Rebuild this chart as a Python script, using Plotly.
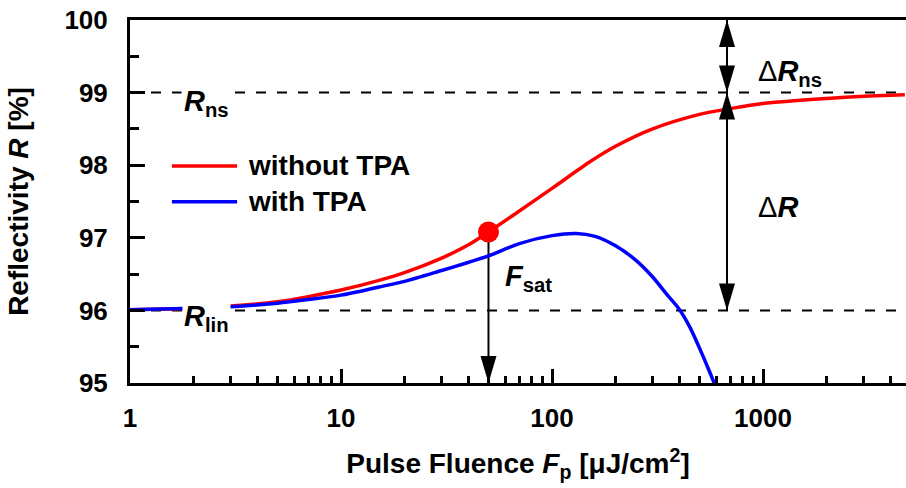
import numpy as np
import plotly.graph_objects as go

# ---------------- data ----------------
fluence_without = [1, 2, 3, 5, 7, 10, 15, 20, 30, 40, 50, 70, 100, 150, 200,
                   300, 500, 700, 1000, 2000, 3000, 4700]
refl_without = [96.01, 96.03, 96.06, 96.12, 96.19, 96.28, 96.41, 96.52, 96.72,
                96.90, 97.08, 97.37, 97.68, 98.04, 98.26, 98.50, 98.70, 98.78,
                98.85, 98.92, 98.95, 98.97]

fluence_with = [1, 2, 3, 5, 7, 10, 15, 20, 30, 40, 50, 70, 100, 130, 160, 200,
                250, 300, 350, 400, 450, 500, 550, 600]
refl_with = [96.01, 96.03, 96.05, 96.10, 96.15, 96.21, 96.32, 96.40, 96.55,
             96.66, 96.75, 96.92, 97.03, 97.06, 97.02, 96.89, 96.69, 96.46,
             96.22, 96.02, 95.77, 95.48, 95.20, 94.93]

series_names = ["without TPA", "with TPA"]
series_colors = ["#ff0000", "#0000ff"]

F_sat = [50]
R_at_F_sat = [97.08]

R_lin = 96
R_ns = 99
R_max = 100
F_arrow = 675          # x position of the ΔR / ΔR_ns arrows

x_tick_vals = [1, 10, 100, 1000]
x_tick_text = ["1", "10", "100", "1000"]
x_minor_vals = [m * d for d in (1, 10, 100, 1000) for m in range(2, 10) if m * d < 4760]
y_tick_vals = [95, 96, 97, 98, 99, 100]

FONT = "Arial, Liberation Sans, sans-serif"
FS_TICK = 26
FS_TITLE = 28
FS_LEG = 28
FS_LAB = 29

fig = go.Figure()
fig.add_trace(go.Scatter(x=fluence_without, y=refl_without, mode="lines",
                         line=dict(color=series_colors[0], width=3.5, shape="spline", smoothing=0.8),
                         name=series_names[0], showlegend=False))
fig.add_trace(go.Scatter(x=fluence_with, y=refl_with, mode="lines",
                         line=dict(color=series_colors[1], width=3.5, shape="spline", smoothing=0.8),
                         name=series_names[1], showlegend=False))
fig.add_trace(go.Scatter(x=F_sat, y=R_at_F_sat, mode="markers",
                         marker=dict(color="#ff0000", size=21), showlegend=False))

shapes = []
# dashed reference levels
for lvl in (R_ns, R_lin):
    shapes.append(dict(type="line", xref="paper", x0=0, x1=1, yref="y", y0=lvl, y1=lvl,
                       line=dict(color="black", width=2, dash="10px,11px"), layer="below"))
# arrow shafts
shapes.append(dict(type="line", xref="x", yref="y", x0=F_arrow, x1=F_arrow, y0=R_max, y1=R_ns,
                   line=dict(color="black", width=2)))
shapes.append(dict(type="line", xref="x", yref="y", x0=F_arrow, x1=F_arrow, y0=R_ns, y1=R_lin,
                   line=dict(color="black", width=2)))
shapes.append(dict(type="line", xref="x", yref="y", x0=F_sat[0], x1=F_sat[0], y0=R_at_F_sat[0], y1=95,
                   line=dict(color="black", width=2), layer="below"))


def head(xv, yv, direction):
    if direction == "down":
        path = "M0,0 L-8,27 L8,27 Z"
    else:
        path = "M0,0 L-8,-27 L8,-27 Z"
    return dict(type="path", xref="x", yref="y", xsizemode="pixel", ysizemode="pixel",
                xanchor=xv, yanchor=yv, path=path, fillcolor="black", line=dict(width=0))


shapes += [head(F_arrow, R_max, "up"), head(F_arrow, R_ns, "down"),
           head(F_arrow, R_ns, "up"), head(F_arrow, R_lin, "down"),
           head(F_sat[0], 95, "down")]

# manual legend line samples
legend_y = [0.598, 0.499]
for c, ly in zip(series_colors, legend_y):
    shapes.append(dict(type="line", xref="paper", yref="paper", x0=0.054, x1=0.138, y0=ly, y1=ly,
                       line=dict(color=c, width=3.5)))

annots = []
for name, ly in zip(series_names, legend_y):
    annots.append(dict(xref="paper", yref="paper", x=0.149, y=ly, xanchor="left", yanchor="middle",
                       text=name, showarrow=False,
                       font=dict(family=FONT, size=FS_LEG, color="black", weight="bold")))

lab_font = dict(family=FONT, size=FS_LAB, color="black", weight="bold")
annots.append(dict(x=np.log10(2.3), y=98.86, text="<i>R</i><sub>ns</sub>", showarrow=False,
                   font=lab_font, bgcolor="white", borderpad=2))
annots.append(dict(x=np.log10(2.3), y=95.9, text="<i>R</i><sub>lin</sub>", showarrow=False,
                   font=lab_font, bgcolor="white", borderpad=1))
annots.append(dict(x=3.13, y=99.27, text="<span style='font-weight:normal'>Δ</span><i>R</i><sub>ns</sub>",
                   showarrow=False, font=lab_font))
annots.append(dict(x=3.07, y=97.42, text="<span style='font-weight:normal'>Δ</span><i>R</i>",
                   showarrow=False, font=lab_font))
annots.append(dict(x=1.89, y=96.45, text="<i>F</i><sub>sat</sub>", showarrow=False, font=lab_font))

fig.update_layout(
    width=906, height=488,
    margin=dict(l=130, r=0, t=20, b=105, autoexpand=False),
    paper_bgcolor="white", plot_bgcolor="white",
    font=dict(family=FONT, size=FS_TICK, color="black"),
    shapes=shapes, annotations=annots,
    xaxis=dict(type="log", range=[0, np.log10(4760)], showgrid=False, zeroline=False,
               showline=True, linewidth=3, linecolor="black", mirror=True,
               ticks="inside", ticklen=14, tickwidth=3, tickcolor="black",
               tickvals=x_tick_vals, ticktext=x_tick_text, ticklabelstandoff=10,
               tickfont=dict(family=FONT, size=FS_TICK, weight="bold"),
               minor=dict(tickvals=x_minor_vals, ticks="inside", ticklen=7, tickwidth=2.5,
                          tickcolor="black", showgrid=False),
               title=dict(text="<b>Pulse Fluence <i>F</i><sub>p</sub> [μJ/cm<sup>2</sup>]</b>",
                          font=dict(family=FONT, size=FS_TITLE), standoff=22),
               automargin=False),
    yaxis=dict(range=[95, 100], showgrid=False, zeroline=False,
               showline=True, linewidth=3, linecolor="black", mirror=False,
               ticks="inside", ticklen=15, tickwidth=3, tickcolor="black",
               tickvals=y_tick_vals, ticklabelstandoff=14,
               tickfont=dict(family=FONT, size=FS_TICK, weight="bold"),
               minor=dict(dtick=0.5, ticks="inside", ticklen=9, tickwidth=3,
                          tickcolor="black", showgrid=False),
               title=dict(text="<b>Reflectivity <i>R</i> [%]</b>",
                          font=dict(family=FONT, size=FS_TITLE), standoff=28),
               automargin=False),
)

fig.write_html("out.html")
